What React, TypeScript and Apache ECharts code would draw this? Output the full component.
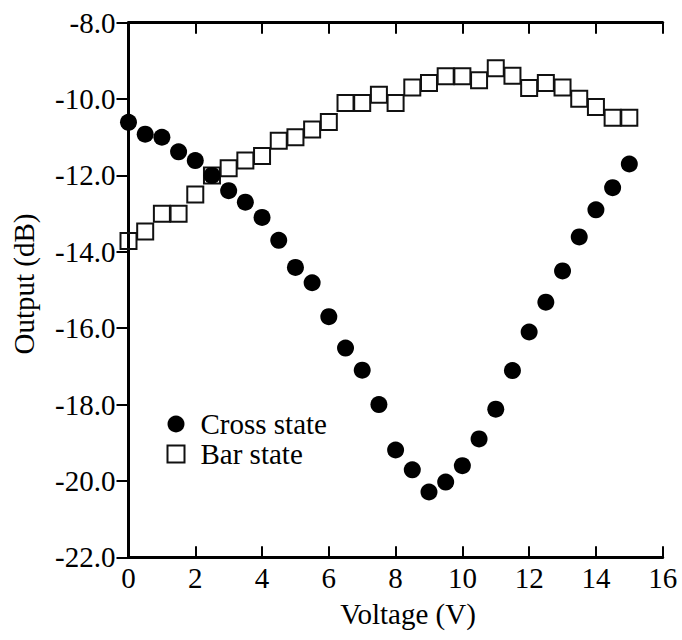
import React, { useEffect, useRef } from "react";
import * as echarts from "echarts";

// Applied voltage (V) for each measurement
const voltage = [
  0, 0.5, 1, 1.5, 2, 2.5, 3, 3.5, 4, 4.5, 5, 5.5, 6, 6.5, 7, 7.5,
  8, 8.5, 9, 9.5, 10, 10.5, 11, 11.5, 12, 12.5, 13, 13.5, 14, 14.5, 15,
];

// Output power (dB), cross state
const crossState = [
  -10.61, -10.92, -11.0, -11.38, -11.61, -12.0, -12.4, -12.7, -13.1, -13.7,
  -14.41, -14.81, -15.7, -16.52, -17.1, -18.0, -19.19, -19.71, -20.29, -20.03,
  -19.6, -18.9, -18.12, -17.11, -16.1, -15.32, -14.5, -13.61, -12.9, -12.32,
  -11.7,
];

// Output power (dB), bar state
const barState = [
  -13.72, -13.47, -13.0, -13.0, -12.5, -12.0, -11.81, -11.61, -11.49, -11.09,
  -11.0, -10.8, -10.6, -10.1, -10.1, -9.89, -10.1, -9.7, -9.58, -9.4,
  -9.4, -9.51, -9.19, -9.39, -9.71, -9.58, -9.7, -9.99, -10.21, -10.49,
  -10.49,
];

const seriesNames = ["Cross state", "Bar state"];
const xTitle = "Voltage (V)";
const yTitle = "Output (dB)";

const FONT = "Liberation Serif";

export default function App() {
  const ref = useRef<HTMLDivElement>(null);

  useEffect(() => {
    if (!ref.current) return;
    const chart = echarts.init(ref.current, undefined, { renderer: "svg" });

    const axisLine = { show: true, lineStyle: { color: "#000", width: 3 } };
    const tickStyle = { color: "#000", width: 2 };

    chart.setOption({
      animation: false,
      backgroundColor: "#fff",
      textStyle: { fontFamily: FONT, fontSize: 29, color: "#000" },
      grid: { left: 128.5, right: 19.3, top: 22.7, bottom: 82.7, containLabel: false },
      xAxis: [
        {
          type: "value",
          position: "bottom",
          min: 0,
          max: 16,
          interval: 2,
          axisLine,
          axisTick: { show: true, inside: true, length: 11, lineStyle: tickStyle },
          axisLabel: {
            color: "#000",
            fontFamily: FONT,
            fontSize: 29,
            margin: 6,
          },
          splitLine: { show: false },
        },
        {
          type: "value",
          position: "top",
          min: 0,
          max: 16,
          interval: 2,
          axisLine,
          axisTick: { show: true, inside: true, length: 11, lineStyle: tickStyle },
          axisLabel: { show: false },
          splitLine: { show: false },
        },
      ],
      yAxis: [
        {
          type: "value",
          position: "left",
          min: -22,
          max: -8,
          interval: 2,
          axisLine,
          axisTick: { show: true, inside: false, length: 12, lineStyle: tickStyle },
          axisLabel: {
            color: "#000",
            fontFamily: FONT,
            fontSize: 29,
            margin: 13,
            formatter: (v: number) => v.toFixed(1),
          },
          splitLine: { show: false },
        },
        {
          type: "value",
          position: "right",
          min: -22,
          max: -8,
          interval: 2,
          axisLine,
          axisTick: { show: true, inside: true, length: 11, lineStyle: tickStyle },
          axisLabel: { show: false },
          splitLine: { show: false },
        },
      ],
      legend: {
        orient: "vertical",
        left: 161.5,
        top: 404,
        itemWidth: 17,
        itemHeight: 17,
        itemGap: 0,
        data: seriesNames,
        itemStyle: { opacity: 1 },
        textStyle: {
          color: "#000",
          fontFamily: FONT,
          fontSize: 29,
          lineHeight: 30,
          padding: [0, 0, 0, 11],
        },
      },
      graphic: [
        {
          type: "text",
          x: 408,
          y: 614,
          style: {
            text: xTitle,
            font: `29px ${FONT}`,
            fill: "#000",
            align: "center",
            verticalAlign: "middle",
          },
        },
        {
          type: "text",
          x: 24,
          y: 284,
          rotation: Math.PI / 2,
          style: {
            text: yTitle,
            font: `29px ${FONT}`,
            fill: "#000",
            align: "center",
            verticalAlign: "middle",
          },
        },
      ],
      series: [
        {
          name: seriesNames[1],
          type: "scatter",
          clip: false,
          symbol: "rect",
          symbolSize: 16,
          z: 2,
          itemStyle: {
            color: "rgba(0,0,0,0)",
            borderColor: "#111",
            borderWidth: 2,
            opacity: 1,
          },
          data: voltage.map((v, i) => [v, barState[i]]),
        },
        {
          name: seriesNames[0],
          type: "scatter",
          clip: false,
          symbol: "circle",
          symbolSize: 17,
          z: 3,
          itemStyle: { color: "#000", opacity: 1 },
          data: voltage.map((v, i) => [v, crossState[i]]),
        },
      ],
    });

    return () => chart.dispose();
  }, []);

  return (
    <div
      ref={ref}
      style={{ position: "fixed", left: 0, top: 0, width: 682, height: 640, background: "#fff" }}
    />
  );
}
